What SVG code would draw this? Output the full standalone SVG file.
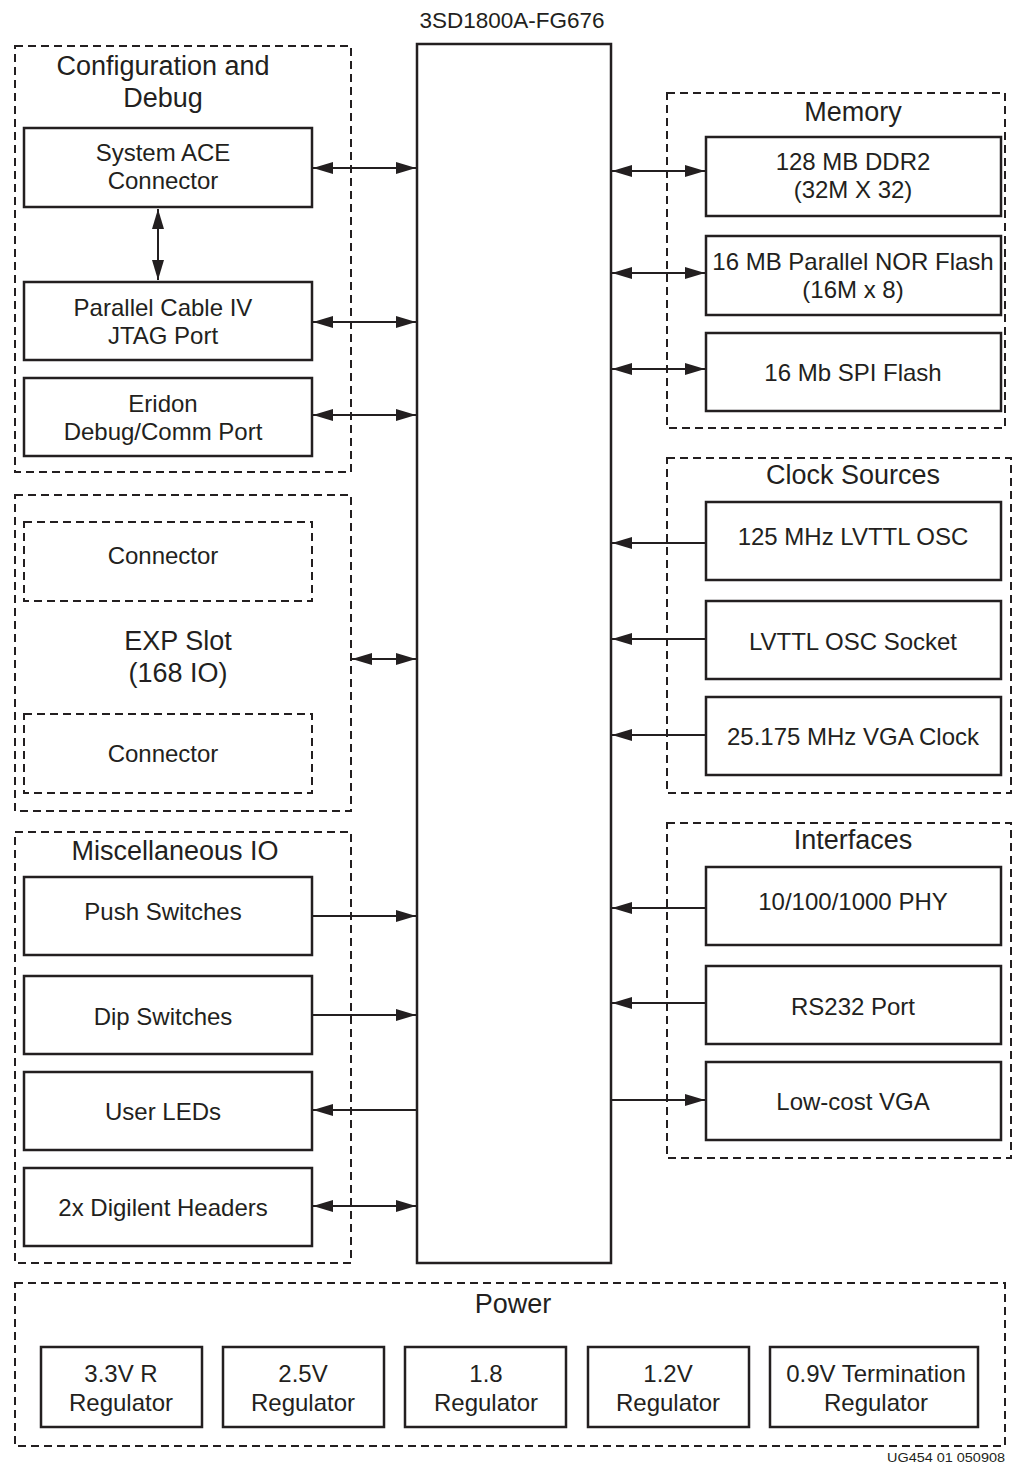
<svg xmlns="http://www.w3.org/2000/svg" width="1013" height="1466" viewBox="0 0 1013 1466">
<style>
  text { font-family: "Liberation Sans", Arial, sans-serif; fill: #231f20; text-anchor: middle; }
  .t { font-size: 24px; }
  .h { font-size: 27px; }
  .box { fill: none; stroke: #231f20; stroke-width: 2.5; }
  .dash { fill: none; stroke: #231f20; stroke-width: 2; stroke-dasharray: 8 5; }
  .ln { fill: none; stroke: #231f20; stroke-width: 2; }
</style>
<defs>
  <marker id="ah" viewBox="0 0 20 12" refX="20" refY="6" markerWidth="20" markerHeight="12" markerUnits="userSpaceOnUse" orient="auto-start-reverse">
    <path d="M0,0 L20,6 L0,12 z" fill="#231f20"/>
  </marker>
</defs>
<rect width="1013" height="1466" fill="#fff"/>

<g id="fpga">
  <rect class="box" x="417" y="44" width="194" height="1219"/>
  <text x="512" y="28" style="font-size:22.5px">3SD1800A-FG676</text>
</g>

<g id="config">
  <rect class="dash" x="15" y="46" width="336" height="426"/>
  <text class="h" x="163" y="75">Configuration and</text>
  <text class="h" x="163" y="107">Debug</text>
</g>
<g id="systemace">
  <rect class="box" x="24" y="128" width="288" height="79"/>
  <text class="t" x="163" y="161">System ACE</text>
  <text class="t" x="163" y="189">Connector</text>
</g>
<g id="parallelcable">
  <rect class="box" x="24" y="282" width="288" height="78"/>
  <text class="t" x="163" y="316">Parallel Cable IV</text>
  <text class="t" x="163" y="344">JTAG Port</text>
</g>
<g id="eridon">
  <rect class="box" x="24" y="378" width="288" height="78"/>
  <text class="t" x="163" y="412">Eridon</text>
  <text class="t" x="163" y="440">Debug/Comm Port</text>
</g>

<g id="expslot">
  <rect class="dash" x="15" y="495" width="336" height="316"/>
  <text class="h" x="178" y="650">EXP Slot</text>
  <text class="h" x="178" y="682">(168 IO)</text>
</g>
<g id="connector1">
  <rect class="dash" x="24" y="522" width="288" height="79"/>
  <text class="t" x="163" y="564">Connector</text>
</g>
<g id="connector2">
  <rect class="dash" x="24" y="714" width="288" height="79"/>
  <text class="t" x="163" y="762">Connector</text>
</g>

<g id="misc">
  <rect class="dash" x="15" y="832" width="336" height="431"/>
  <text class="h" x="175" y="860">Miscellaneous IO</text>
</g>
<g id="push">
  <rect class="box" x="24" y="877" width="288" height="78"/>
  <text class="t" x="163" y="920">Push Switches</text>
</g>
<g id="dip">
  <rect class="box" x="24" y="976" width="288" height="78"/>
  <text class="t" x="163" y="1025">Dip Switches</text>
</g>
<g id="leds">
  <rect class="box" x="24" y="1072" width="288" height="78"/>
  <text class="t" x="163" y="1120">User LEDs</text>
</g>
<g id="digilent">
  <rect class="box" x="24" y="1168" width="288" height="78"/>
  <text class="t" x="163" y="1216">2x Digilent Headers</text>
</g>

<g id="memory">
  <rect class="dash" x="667" y="93" width="338" height="335"/>
  <text class="h" x="853" y="121">Memory</text>
</g>
<g id="ddr2">
  <rect class="box" x="706" y="137" width="295" height="79"/>
  <text class="t" x="853" y="170">128 MB DDR2</text>
  <text class="t" x="853" y="198">(32M X 32)</text>
</g>
<g id="nor">
  <rect class="box" x="706" y="236" width="295" height="79"/>
  <text class="t" x="853" y="270">16 MB Parallel NOR Flash</text>
  <text class="t" x="853" y="298">(16M x 8)</text>
</g>
<g id="spi">
  <rect class="box" x="706" y="333" width="295" height="78"/>
  <text class="t" x="853" y="381">16 Mb SPI Flash</text>
</g>

<g id="clocks">
  <rect class="dash" x="667" y="458" width="344" height="335"/>
  <text class="h" x="853" y="484">Clock Sources</text>
</g>
<g id="osc125">
  <rect class="box" x="706" y="502" width="295" height="78"/>
  <text class="t" x="853" y="545">125 MHz LVTTL OSC</text>
</g>
<g id="oscsocket">
  <rect class="box" x="706" y="601" width="295" height="78"/>
  <text class="t" x="853" y="650">LVTTL OSC Socket</text>
</g>
<g id="vgaclock">
  <rect class="box" x="706" y="697" width="295" height="78"/>
  <text class="t" x="853" y="745">25.175 MHz VGA Clock</text>
</g>

<g id="interfaces">
  <rect class="dash" x="667" y="823" width="344" height="335"/>
  <text class="h" x="853" y="849">Interfaces</text>
</g>
<g id="phy">
  <rect class="box" x="706" y="867" width="295" height="78"/>
  <text class="t" x="853" y="910">10/100/1000 PHY</text>
</g>
<g id="rs232">
  <rect class="box" x="706" y="966" width="295" height="78"/>
  <text class="t" x="853" y="1015">RS232 Port</text>
</g>
<g id="vga">
  <rect class="box" x="706" y="1062" width="295" height="78"/>
  <text class="t" x="853" y="1110">Low-cost VGA</text>
</g>

<g id="power">
  <rect class="dash" x="15" y="1283" width="990" height="163"/>
  <text class="h" x="513" y="1313">Power</text>
</g>
<g id="reg33">
  <rect class="box" x="41" y="1347" width="161" height="80"/>
  <text class="t" x="121" y="1382">3.3V R</text>
  <text class="t" x="121" y="1411">Regulator</text>
</g>
<g id="reg25">
  <rect class="box" x="223" y="1347" width="161" height="80"/>
  <text class="t" x="303" y="1382">2.5V</text>
  <text class="t" x="303" y="1411">Regulator</text>
</g>
<g id="reg18">
  <rect class="box" x="405" y="1347" width="161" height="80"/>
  <text class="t" x="486" y="1382">1.8</text>
  <text class="t" x="486" y="1411">Regulator</text>
</g>
<g id="reg12">
  <rect class="box" x="588" y="1347" width="161" height="80"/>
  <text class="t" x="668" y="1382">1.2V</text>
  <text class="t" x="668" y="1411">Regulator</text>
</g>
<g id="reg09">
  <rect class="box" x="770" y="1347" width="208" height="80"/>
  <text class="t" x="876" y="1382">0.9V Termination</text>
  <text class="t" x="876" y="1411">Regulator</text>
</g>

<text x="1005" y="1462" style="font-size:12px;text-anchor:end" textLength="118" lengthAdjust="spacingAndGlyphs">UG454 01 050908</text>

<g id="connectors">
  <line class="ln" x1="313" y1="168" x2="416" y2="168" marker-start="url(#ah)" marker-end="url(#ah)"/>
  <line class="ln" x1="158" y1="209" x2="158" y2="280" marker-start="url(#ah)" marker-end="url(#ah)"/>
  <line class="ln" x1="313" y1="322" x2="416" y2="322" marker-start="url(#ah)" marker-end="url(#ah)"/>
  <line class="ln" x1="313" y1="415" x2="416" y2="415" marker-start="url(#ah)" marker-end="url(#ah)"/>
  <line class="ln" x1="352" y1="659" x2="416" y2="659" marker-start="url(#ah)" marker-end="url(#ah)"/>
  <line class="ln" x1="312" y1="916" x2="416" y2="916" marker-end="url(#ah)"/>
  <line class="ln" x1="312" y1="1015" x2="416" y2="1015" marker-end="url(#ah)"/>
  <line class="ln" x1="417" y1="1110" x2="313" y2="1110" marker-end="url(#ah)"/>
  <line class="ln" x1="313" y1="1206" x2="416" y2="1206" marker-start="url(#ah)" marker-end="url(#ah)"/>
  <line class="ln" x1="612" y1="171" x2="705" y2="171" marker-start="url(#ah)" marker-end="url(#ah)"/>
  <line class="ln" x1="612" y1="273" x2="705" y2="273" marker-start="url(#ah)" marker-end="url(#ah)"/>
  <line class="ln" x1="612" y1="369" x2="705" y2="369" marker-start="url(#ah)" marker-end="url(#ah)"/>
  <line class="ln" x1="706" y1="543" x2="612" y2="543" marker-end="url(#ah)"/>
  <line class="ln" x1="706" y1="639" x2="612" y2="639" marker-end="url(#ah)"/>
  <line class="ln" x1="706" y1="735" x2="612" y2="735" marker-end="url(#ah)"/>
  <line class="ln" x1="706" y1="908" x2="612" y2="908" marker-end="url(#ah)"/>
  <line class="ln" x1="706" y1="1003" x2="612" y2="1003" marker-end="url(#ah)"/>
  <line class="ln" x1="611" y1="1100" x2="705" y2="1100" marker-end="url(#ah)"/>
</g>
</svg>
